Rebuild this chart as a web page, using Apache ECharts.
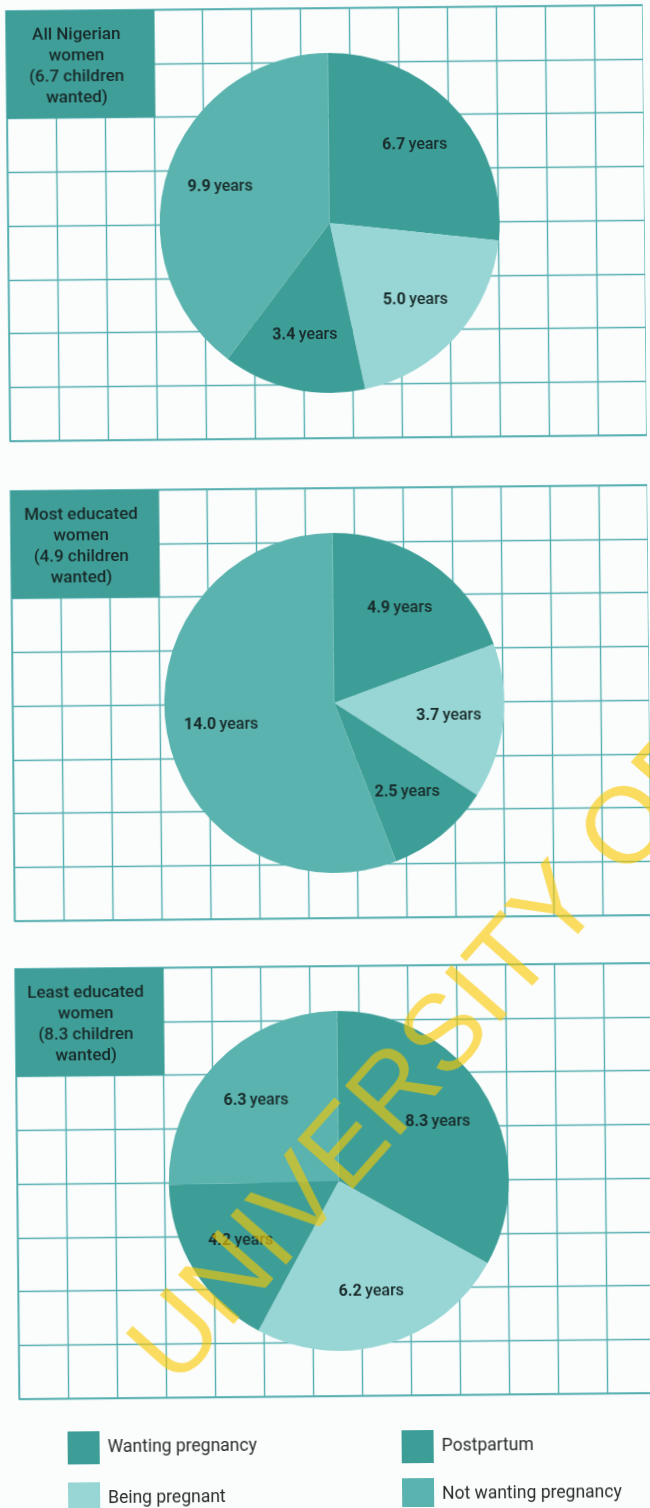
<!DOCTYPE html>
<html>
<head>
<meta charset="utf-8">
<script src="https://cdn.jsdelivr.net/npm/echarts@6/dist/echarts.min.js"></script>
<style>
  html, body { margin: 0; padding: 0; background: #fbfdfd; overflow: hidden; }
  #chart { width: 650px; height: 1508px; transform: rotate(-0.55deg); transform-origin: 325px 754px; }
</style>
</head>
<body>
<div id="chart"></div>
<script>
// Years of reproductive life spent in each state, by group of women
const categories = ['Wanting pregnancy', 'Being pregnant', 'Postpartum', 'Not wanting pregnancy'];
const allWomenYears = [6.7, 5.0, 3.4, 9.9];
const mostEducatedYears = [4.9, 3.7, 2.5, 14.0];
const leastEducatedYears = [8.3, 6.2, 4.2, 6.3];
const panelTitles = [
  'All Nigerian\nwomen\n(6.7 children\nwanted)',
  'Most educated\nwomen\n(4.9 children\nwanted)',
  'Least educated\nwomen\n(8.3 children\nwanted)'
];
const panelValues = [allWomenYears, mostEducatedYears, leastEducatedYears];

// Styling
const sliceColors = ['#3d9e98', '#98d6d5', '#3d9e98', '#5ab3ae'];
const lineColor = '#56aeb0';
const boxColor = '#3f9e98';
const inkColor = '#182a29';
const FONT = 'Roboto, "Liberation Sans", Arial, sans-serif';

// Panel layout: squared paper of 13 x 8 cells per panel
const COLS = 13, ROWS = 8;
const CELL_W = 49.5, CELL_H = 53.75;
const PANEL_LEFT = 13;
const PANEL_TOPS = [8, 488, 966];
const PIE_R = 170;

const grid = [], xAxis = [], yAxis = [], series = [], graphic = [];

PANEL_TOPS.forEach((top, i) => {
  const w = COLS * CELL_W, h = ROWS * CELL_H;
  grid.push({
    left: PANEL_LEFT, top: top, width: w, height: h,
    show: true, borderColor: lineColor, borderWidth: 1.4,
    backgroundColor: 'transparent'
  });
  const axisBase = {
    type: 'value', gridIndex: i, min: 0, interval: 1,
    axisLine: { show: false }, axisTick: { show: false }, axisLabel: { show: false },
    splitLine: { show: true, lineStyle: { color: lineColor, width: 1.4 } }
  };
  xAxis.push(Object.assign({}, axisBase, { max: COLS }));
  yAxis.push(Object.assign({}, axisBase, { max: ROWS }));

  const center = [PANEL_LEFT + w / 2, top + h / 2];
  const vals = panelValues[i];

  // the pie itself
  series.push({
    type: 'pie', center: center, radius: PIE_R,
    startAngle: 90, clockwise: true, silent: true,
    label: { show: false }, labelLine: { show: false },
    emphasis: { disabled: true },
    data: categories.map((c, k) => ({ name: c, value: vals[k], itemStyle: { color: sliceColors[k] } }))
  });

  // value labels, placed along each slice's bisector
  series.push({
    type: 'pie', center: center, radius: PIE_R * 1.32,
    startAngle: 90, clockwise: true, silent: true, legendHoverLink: false,
    avoidLabelOverlap: false,
    itemStyle: { color: 'rgba(0,0,0,0)' },
    emphasis: { disabled: true },
    labelLine: { show: false },
    label: {
      show: true, position: 'inside',
      formatter: p => '{n|' + p.value.toFixed(1) + '} {y|years}',
      rich: {
        n: { fontFamily: FONT, fontWeight: 'bold', fontSize: 16, color: inkColor },
        y: { fontFamily: FONT, fontWeight: 500, fontSize: 16, color: inkColor }
      }
    },
    data: categories.map((c, k) => ({ name: c, value: vals[k] }))
  });

  // panel heading box
  graphic.push({
    type: 'rect', z: 50, silent: true,
    shape: { x: PANEL_LEFT, y: top, width: 3 * CELL_W, height: 2 * CELL_H },
    style: { fill: boxColor }
  });
  graphic.push({
    type: 'text', z: 51, silent: true,
    x: PANEL_LEFT + 1.5 * CELL_W - 4, y: top + CELL_H + 2,
    style: {
      text: panelTitles[i], fontFamily: FONT, fontWeight: 500, fontSize: 17, lineHeight: 21,
      fill: inkColor, align: 'center', verticalAlign: 'middle'
    }
  });
});

// library stamp across the lower panels
graphic.push({
  type: 'text', z: 100, silent: true,
  x: 425, y: 1060, rotation: 48 * Math.PI / 180,
  style: {
    text: 'UNIVERSITY OF', fontFamily: '"Liberation Sans", Arial, sans-serif',
    fontSize: 108,
    fill: '#f8c800', opacity: 0.62, align: 'center', verticalAlign: 'middle'
  }
});

// one legend entry per block: two columns of two
const legendBase = {
  padding: 0, itemWidth: 32, itemHeight: 33,
  icon: 'rect', selectedMode: false,
  textStyle: { fontFamily: FONT, fontSize: 17.5, color: '#2a2a2a', padding: [0, 0, 0, 3] }
};
const legendSpots = [
  { left: 61, top: 1429 },
  { left: 61, top: 1480 },
  { left: 395, top: 1431 },
  { left: 395, top: 1479 }
];
const legend = categories.map((c, k) => Object.assign({}, legendBase, legendSpots[k], { data: [c] }));

const chart = echarts.init(document.getElementById('chart'), null, { renderer: 'canvas' });
chart.setOption({
  backgroundColor: '#fbfdfd',
  animation: false,
  grid: grid,
  xAxis: xAxis,
  yAxis: yAxis,
  legend: legend,
  graphic: graphic,
  series: series
});
</script>
</body>
</html>
